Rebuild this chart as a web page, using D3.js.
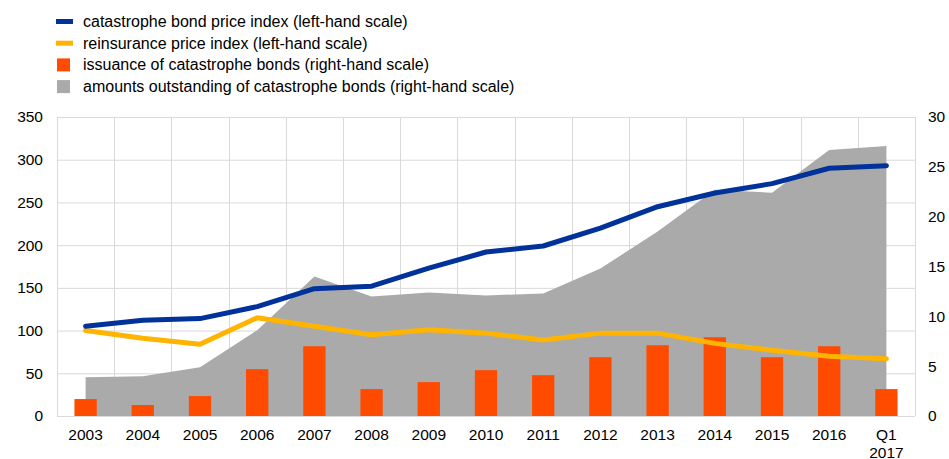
<!DOCTYPE html>
<html>
<head>
<meta charset="utf-8">
<script src="https://cdn.jsdelivr.net/npm/d3@7/dist/d3.min.js"></script>
<style>
  html, body { margin: 0; padding: 0; background: #fff; }
  svg { display: block; font-family: "Liberation Sans", Arial, sans-serif; }
</style>
</head>
<body>
<svg id="chart" width="949" height="459"></svg>
<script>
const categories = ["2003","2004","2005","2006","2007","2008","2009","2010","2011","2012","2013","2014","2015","2016","Q1 2017"];
const catBondIndex = [105, 112, 114, 128, 149, 152, 173, 192, 199, 220, 245, 261, 272, 290, 293];
const reinsuranceIndex = [100, 91, 84, 115, 105, 95, 101, 97, 89, 97, 97, 85, 77, 70, 67];
const issuance = [1.7, 1.1, 2.0, 4.7, 7.0, 2.7, 3.4, 4.6, 4.1, 5.9, 7.1, 7.9, 5.9, 7.0, 2.7];
const outstanding = [3.9, 4.0, 4.9, 8.6, 14.0, 12.0, 12.4, 12.1, 12.3, 14.8, 18.5, 22.7, 22.4, 26.7, 27.1];
const leftTicks = [0, 50, 100, 150, 200, 250, 300, 350];
const rightTicks = [0, 5, 10, 15, 20, 25, 30];
const legendItems = [
  {label: "catastrophe bond price index (left-hand scale)", type: "line", color: "#003299"},
  {label: "reinsurance price index (left-hand scale)", type: "line", color: "#ffb400"},
  {label: "issuance of catastrophe bonds (right-hand scale)", type: "rect", color: "#ff4b00"},
  {label: "amounts outstanding of catastrophe bonds (right-hand scale)", type: "rect", color: "#aaaaaa"}
];

const svg = d3.select("#chart");
const L = 57, R = 915, T = 117, B = 416;
const tickFont = 15.5;

const x = d3.scaleBand().domain(categories).range([L, R]).padding(0);
const cx = d => x(d) + x.bandwidth() / 2;
const yL = d3.scaleLinear().domain([0, 350]).range([B, T]);
const yR = d3.scaleLinear().domain([0, 30]).range([B, T]);

// grid
const grid = svg.append("g");
grid.selectAll("line.h").data(leftTicks).join("line")
  .attr("x1", L).attr("x2", R)
  .attr("y1", d => yL(d) + 0.5).attr("y2", d => yL(d) + 0.5)
  .attr("stroke", "#d9d9d9").attr("stroke-width", 1);
const bounds = categories.map(c => x(c)).concat([R]);
grid.selectAll("line.v").data(bounds).join("line")
  .attr("x1", d => Math.round(d) + 0.5).attr("x2", d => Math.round(d) + 0.5)
  .attr("y1", T).attr("y2", B)
  .attr("stroke", "#d9d9d9").attr("stroke-width", 1);

// area
const area = d3.area()
  .x((d, i) => cx(categories[i]))
  .y0(yR(0))
  .y1(d => yR(d));
svg.append("path").datum(outstanding).attr("d", area).attr("fill", "#aaaaaa");

// bars
const bw = x.bandwidth() * 0.39;
svg.append("g").selectAll("rect").data(issuance).join("rect")
  .attr("x", (d, i) => cx(categories[i]) - bw / 2)
  .attr("width", bw)
  .attr("y", d => yR(d))
  .attr("height", d => yR(0) - yR(d))
  .attr("fill", "#ff4b00");

// bottom axis line
svg.append("line").attr("x1", L).attr("x2", R).attr("y1", B + 0.5).attr("y2", B + 0.5)
  .attr("stroke", "#d9d9d9");

// lines
const line = d3.line().x((d, i) => cx(categories[i])).y(d => yL(d));
svg.append("path").datum(reinsuranceIndex).attr("d", line)
  .attr("fill", "none").attr("stroke", "#ffb400").attr("stroke-width", 5)
  .attr("stroke-linejoin", "round").attr("stroke-linecap", "round");
svg.append("path").datum(catBondIndex).attr("d", line)
  .attr("fill", "none").attr("stroke", "#003299").attr("stroke-width", 5)
  .attr("stroke-linejoin", "round").attr("stroke-linecap", "round");

// axes
const axL = d3.axisLeft(yL).tickValues(leftTicks).tickSize(0).tickPadding(14);
const gL = svg.append("g").attr("transform", `translate(${L},0)`).call(axL);
gL.select(".domain").remove();
gL.selectAll("text").attr("font-size", tickFont).attr("fill", "#000").attr("font-family", "Liberation Sans, Arial, sans-serif");

const axR = d3.axisRight(yR).tickValues(rightTicks).tickSize(0).tickPadding(13);
const gR = svg.append("g").attr("transform", `translate(${R},0)`).call(axR);
gR.select(".domain").remove();
gR.selectAll("text").attr("font-size", tickFont).attr("fill", "#000").attr("font-family", "Liberation Sans, Arial, sans-serif");

const axB = d3.axisBottom(x).tickSize(0).tickPadding(0);
const gB = svg.append("g").attr("transform", `translate(0,${B})`).call(axB);
gB.select(".domain").remove();
gB.selectAll("text").attr("font-size", tickFont).attr("fill", "#000").attr("font-family", "Liberation Sans, Arial, sans-serif")
  .attr("dy", null).attr("y", 0)
  .each(function(d) {
    const t = d3.select(this);
    const parts = d.split(" ");
    t.text(null);
    parts.forEach((p, i) => {
      t.append("tspan").attr("x", 0).attr("y", 24 + i * 17.5).text(p);
    });
  });

// legend
const lg = svg.append("g");
legendItems.forEach((it, i) => {
  const yc = 21.5 + i * 21.7;
  if (it.type === "line") {
    lg.append("rect").attr("x", 56).attr("y", yc - 2.5).attr("width", 17).attr("height", 5).attr("fill", it.color);
  } else {
    lg.append("rect").attr("x", 57).attr("y", yc - 6.5).attr("width", 13).attr("height", 13).attr("fill", it.color);
  }
  lg.append("text").attr("x", 83).attr("y", yc + 5.5).attr("font-size", 16).attr("fill", "#000").text(it.label);
});
</script>
</body>
</html>
